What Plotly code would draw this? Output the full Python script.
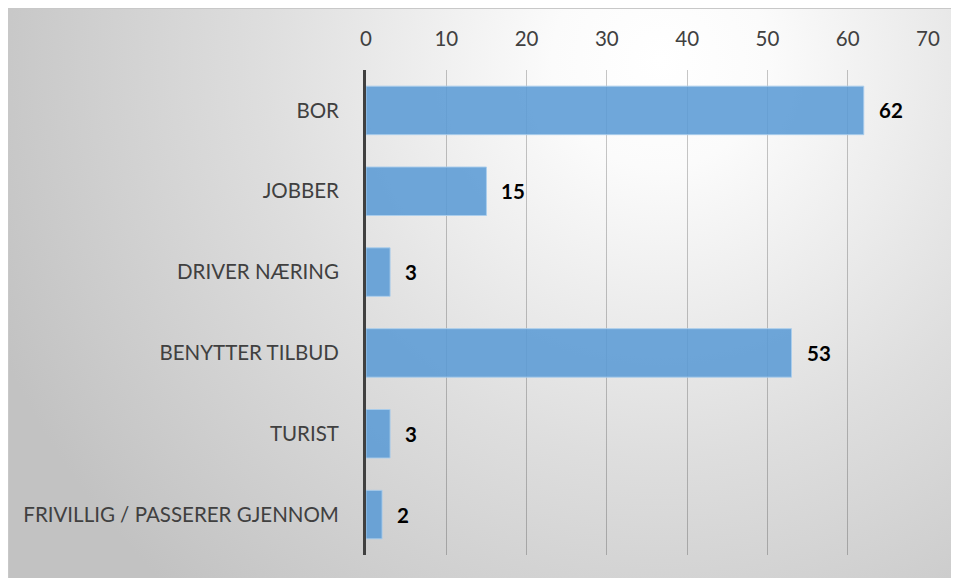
import base64
import plotly.graph_objects as go

categories = ["BOR", "JOBBER", "DRIVER NÆRING", "BENYTTER TILBUD", "TURIST", "FRIVILLIG / PASSERER GJENNOM"]
values = [62, 15, 3, 53, 3, 2]
x_ticks = [0, 10, 20, 30, 40, 50, 60, 70]

W, H = 965, 575
L, R, T, B = 358, 45, 62, 28
pw, ph = W - L - R, H - T - B

# background: radial gradient panel with thin border on top/left
svg = f'''<svg xmlns="http://www.w3.org/2000/svg" width="{W}" height="{H}" viewBox="0 0 {W} {H}" preserveAspectRatio="none">
<defs><radialGradient id="g" gradientUnits="userSpaceOnUse" cx="652" cy="52" r="720" fx="652" fy="52">
<stop offset="0" stop-color="#ffffff"/><stop offset="0.15" stop-color="#fbfbfb"/><stop offset="0.55" stop-color="#dedede"/><stop offset="1" stop-color="#c2c2c2"/>
</radialGradient></defs>
<rect x="0" y="0" width="{W}" height="{H}" fill="url(#g)"/>
<path d="M0.5 {H} L0.5 0.5 L{W} 0.5" fill="none" stroke="#c8c8c8" stroke-width="1"/>
</svg>'''
src = "data:image/svg+xml;base64," + base64.b64encode(svg.encode()).decode()

FONT = "Lato, Open Sans, sans-serif"
FS = 20.5

fig = go.Figure()
fig.add_trace(go.Bar(
    x=values, y=categories, orientation="h",
    marker=dict(color="rgba(91,155,213,0.88)", line=dict(color="rgba(170,205,236,0.9)", width=1)),
    width=0.6, hoverinfo="skip",
))

for c, v in zip(categories, values):
    fig.add_annotation(x=v, y=c, xref="x", yref="y", text=f"<b>{v}</b>", showarrow=False,
                       xanchor="left", yanchor="middle", xshift=13,
                       font=dict(family=FONT, size=FS, color="#000000"))

fig.add_layout_image(dict(
    source=src, xref="paper", yref="paper",
    x=-L / pw, y=1 + T / ph, sizex=W / pw, sizey=H / ph,
    xanchor="left", yanchor="top", sizing="stretch", layer="below",
))

fig.update_layout(
    width=W, height=H,
    margin=dict(l=L, r=R, t=T, b=B, pad=0),
    paper_bgcolor="white", plot_bgcolor="rgba(0,0,0,0)",
    showlegend=False,
    font=dict(family=FONT, size=FS, color="#404040"),
    xaxis=dict(side="top", range=[0, 70], tickvals=x_ticks, showgrid=True,
               gridcolor="rgba(0,0,0,0.22)", gridwidth=1, zeroline=False, showline=False,
               ticks="", ticklabelstandoff=19, tickfont=dict(family=FONT, size=FS, color="#404040")),
    yaxis=dict(categoryorder="array", categoryarray=categories[::-1], showgrid=False,
               zeroline=False, showline=True, linecolor="#404040", linewidth=3,
               ticks="", ticklabelstandoff=20, tickfont=dict(family=FONT, size=FS, color="#404040")),
)

fig.write_html("out.html")
